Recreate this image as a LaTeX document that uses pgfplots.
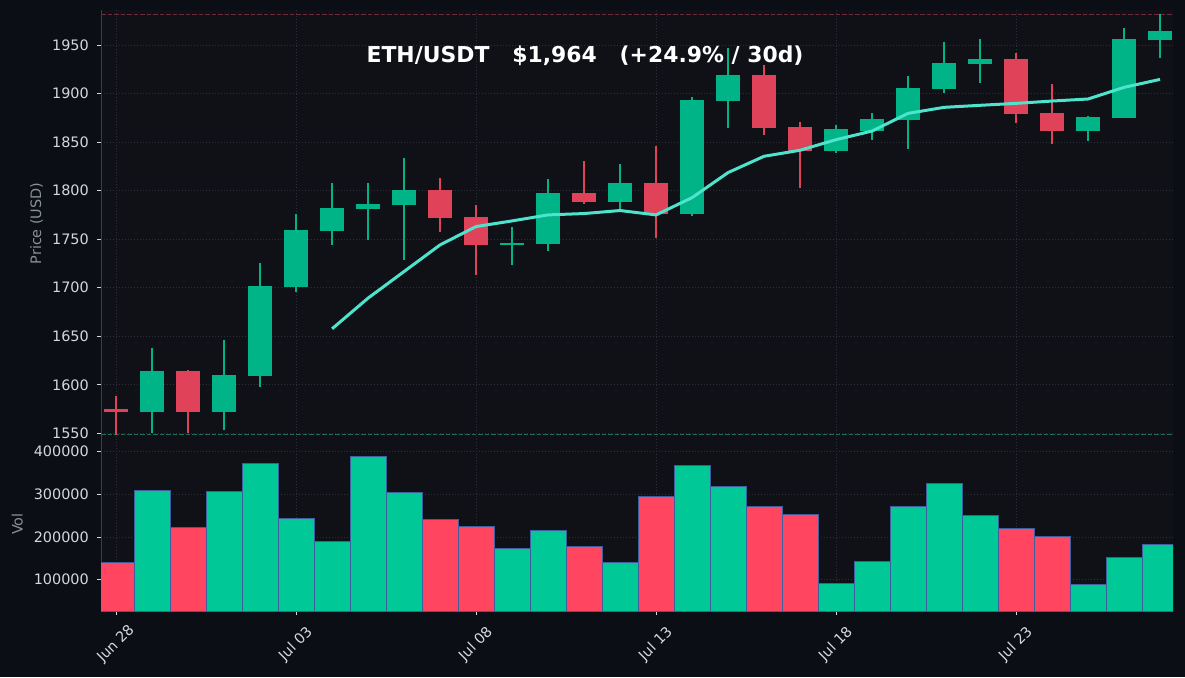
\documentclass[border=0pt]{standalone}
\usepackage{fontspec}
\setmainfont{DejaVu Sans}
\usepackage{pgfplots}
\usepackage{pgfplotstable}
\pgfplotsset{compat=1.18}

\definecolor{figbg}{HTML}{0B0E14}
\definecolor{axbg}{HTML}{0F1116}
\definecolor{cgrid}{HTML}{2C3039}
\definecolor{cspine}{HTML}{3A3F4A}
\definecolor{ctick}{HTML}{D4D7DD}
\definecolor{clabel}{HTML}{8B8F97}
\definecolor{cgreen}{HTML}{00B488}
\definecolor{cred}{HTML}{E0425A}
\definecolor{vgreen}{HTML}{00C896}
\definecolor{vred}{HTML}{FF4560}
\definecolor{vedge}{HTML}{3D5F9E}
\definecolor{cma}{HTML}{4DE3CC}
\definecolor{chigh}{HTML}{6E2A3A}
\definecolor{clow}{HTML}{1F6B5C}

% daily candles, day 0 = Jun 28
\pgfplotstableread{
d o h l c
1 1572.0 1637.8 1550.7 1614.5
3 1572.0 1646.4 1553.0 1610.0
4 1609.0 1725.6 1597.3 1701.6
5 1700.6 1775.7 1695.1 1759.2
6 1758.2 1808.0 1744.5 1781.9
7 1780.8 1808.0 1749.6 1786.0
8 1785.0 1833.7 1729.0 1800.4
11 1744.2 1762.3 1722.9 1745.8
12 1744.8 1811.7 1738.3 1797.3
14 1788.0 1827.5 1780.2 1807.6
16 1776.4 1896.1 1774.3 1893.0
17 1892.0 1946.5 1864.9 1918.7
20 1841.2 1867.6 1838.5 1863.2
21 1861.8 1879.6 1852.2 1873.8
22 1872.4 1918.0 1843.0 1905.3
23 1904.3 1953.0 1900.6 1931.1
24 1930.0 1956.1 1911.2 1935.2
27 1861.1 1876.9 1851.2 1875.5
28 1874.5 1967.4 1874.5 1955.8
29 1954.8 1981.8 1936.9 1964.0
}\upc
\pgfplotstableread{
d o h l c
0 1575.0 1588.8 1548.6 1572.0
2 1614.5 1614.8 1550.7 1572.0
9 1800.4 1813.0 1757.9 1771.6
10 1772.6 1785.3 1713.6 1743.5
13 1797.3 1830.2 1786.3 1788.0
15 1807.6 1846.0 1750.7 1776.4
18 1918.7 1929.4 1857.3 1864.2
19 1865.2 1870.4 1802.8 1841.2
25 1935.2 1942.0 1869.6 1878.6
26 1879.6 1909.8 1848.4 1861.1
}\downc

\pgfplotstableread{
d v
1 308800
3 306500
4 372000
5 243400
6 190400
7 388300
8 304200
11 173300
12 215300
14 140600
16 367300
17 318200
20 91500
21 143000
22 271500
23 325200
24 250500
27 89000
28 152300
29 182600
}\volup
\pgfplotstableread{
d v
0 140000
2 222300
9 241000
10 223900
13 177000
15 294000
18 270700
19 252000
25 219300
26 200600
}\voldown

\pgfplotsset{
  darkax/.style={
    scale only axis, width=1072pt,
    xmin=-0.42, xmax=29.36,
    axis background/.style={fill=axbg},
    axis y line*=left, axis x line*=bottom,
    y axis line style={draw=cspine, line width=0.8pt},
    x axis line style={draw=none},
    tick align=outside, major tick length=4pt,
    every tick/.style={ctick, line width=0.8pt},
    grid=major,
    major grid style={cgrid, line width=0.8pt, dash pattern=on 1pt off 2pt},
    xtick={0,5,10,15,20,25},
    ticklabel style={font=\fontsize{14.4}{17}\selectfont, text=ctick},
    yticklabel style={inner sep=0pt, xshift=-8pt},
    /pgf/number format/fixed,
    /pgf/number format/1000 sep={},
    /pgf/number format/assume math mode=true,
  },
  % candle part: colour, width
  candle/.style 2 args={draw=none, mark=none, forget plot,
    /pgfplots/error bars/y dir=minus,
    /pgfplots/error bars/y explicit,
    /pgfplots/error bars/error mark=none,
    /pgfplots/error bars/error bar style={draw=#1, line width=#2}},
}

\begin{document}
\begin{tikzpicture}[x=1pt,y=1pt]
\fill[figbg] (0,0) rectangle (1185,677);
\useasboundingbox (0,0) rectangle (1185,677);

\begin{axis}[darkax,
  at={(101pt,240pt)}, anchor=south west, height=427pt,
  ymin=1546.2, ymax=1986.1,
  ytick={1550,1600,...,1950},
  xticklabels={},
  x tick style={draw=none},
  ylabel={Price (USD)},
  ylabel style={at={(axis description cs:-0.060,0.5)}, anchor=center,
    font=\fontsize{14.4}{17}\selectfont, text=clabel},
]
% high / low reference lines
\addplot[chigh, line width=1pt, dash pattern=on 4.5pt off 2pt] coordinates {(-0.42,1981.8) (29.36,1981.8)};
\addplot[clow, line width=1pt, dash pattern=on 4.5pt off 2pt] coordinates {(-0.42,1548.6) (29.36,1548.6)};
% wicks
\addplot[candle={cgreen}{2pt}]
  table[x=d, y=h, y error minus expr=\thisrow{h}-\thisrow{l}] {\upc};
\addplot[candle={cred}{2pt}]
  table[x=d, y=h, y error minus expr=\thisrow{h}-\thisrow{l}] {\downc};
% bodies
\addplot[candle={cgreen}{24pt}]
  table[x=d, y=c, y error minus expr=\thisrow{c}-\thisrow{o}] {\upc};
\addplot[candle={cred}{24pt}]
  table[x=d, y=o, y error minus expr=\thisrow{o}-\thisrow{c}] {\downc};
% 7-day moving average
\addplot[cma, line width=3pt, line join=round] coordinates {
(6,1657.7) (7,1689.3) (8,1716.7) (9,1744.1) (10,1763.0) (11,1768.8)
(12,1775.0) (13,1776.4) (14,1779.5) (15,1775.0) (16,1792.8) (17,1818.6)
(18,1835.4) (19,1841.6) (20,1852.5) (21,1861.4) (22,1879.6) (23,1885.8)
(24,1887.9) (25,1889.9) (26,1892.3) (27,1894.4) (28,1906.4) (29,1914.6)};
\end{axis}

\begin{axis}[darkax,
  at={(101pt,66pt)}, anchor=south west, height=174pt,
  ymin=26900, ymax=433400,
  ytick={100000,200000,300000,400000},
  scaled y ticks=false,
  xticklabels={Jun 28,Jul 03,Jul 08,Jul 13,Jul 18,Jul 23},
  xticklabel style={rotate=45, anchor=center, inner sep=0pt},
  xticklabel shift=29pt,
  ylabel={Vol},
  ylabel style={at={(axis description cs:-0.078,0.5)}, anchor=center,
    font=\fontsize{14.4}{17}\selectfont, text=clabel},
]
\addplot[ybar, bar width=1, bar shift=0pt, fill=vgreen, draw=vedge, line width=1pt]
  table[x=d, y=v] {\volup};
\addplot[ybar, bar width=1, bar shift=0pt, fill=vred, draw=vedge, line width=1pt]
  table[x=d, y=v] {\voldown};
\end{axis}

\node[font=\bfseries\fontsize{21.9}{26}\selectfont, text=white] at (585,621)
  {ETH/USDT\ \ \ \$1,964\ \ \ (+24.9\%\ /\ 30d)};
\end{tikzpicture}
\end{document}
